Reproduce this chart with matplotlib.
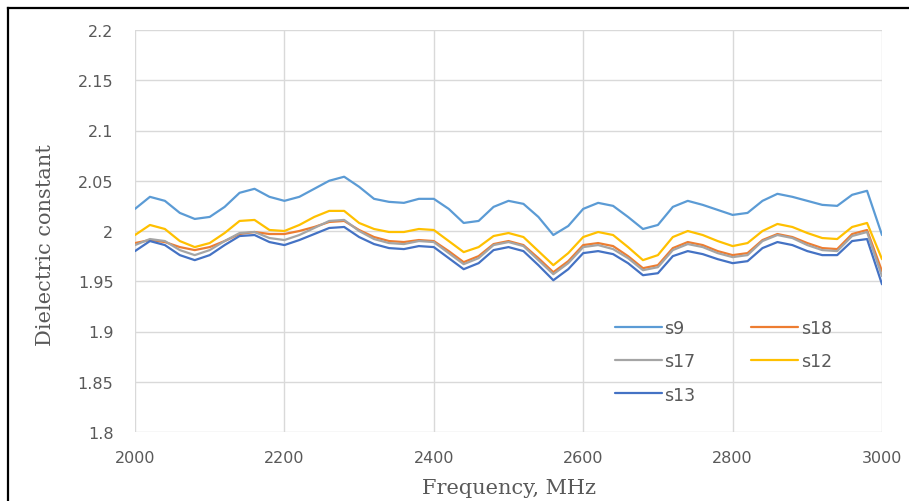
import matplotlib
matplotlib.use("Agg")
import matplotlib.pyplot as plt
from matplotlib.lines import Line2D

freq = [2000, 2020, 2040, 2060, 2080, 2100, 2120, 2140, 2160, 2180,
        2200, 2220, 2240, 2260, 2280, 2300, 2320, 2340, 2360, 2380,
        2400, 2420, 2440, 2460, 2480, 2500, 2520, 2540, 2560, 2580,
        2600, 2620, 2640, 2660, 2680, 2700, 2720, 2740, 2760, 2780,
        2800, 2820, 2840, 2860, 2880, 2900, 2920, 2940, 2960, 2980, 3000]

s9 = [2.022, 2.034, 2.030, 2.018, 2.012, 2.014, 2.024, 2.038, 2.042, 2.034,
      2.030, 2.034, 2.042, 2.050, 2.054, 2.044, 2.032, 2.029, 2.028, 2.032,
      2.032, 2.022, 2.008, 2.010, 2.024, 2.030, 2.027, 2.014, 1.996, 2.005,
      2.022, 2.028, 2.025, 2.014, 2.002, 2.006, 2.024, 2.030, 2.026, 2.021,
      2.016, 2.018, 2.030, 2.037, 2.034, 2.030, 2.026, 2.025, 2.036, 2.040, 1.996]

s18 = [1.988, 1.991, 1.989, 1.984, 1.981, 1.984, 1.990, 1.997, 1.999, 1.997,
       1.997, 2.000, 2.004, 2.009, 2.010, 2.001, 1.994, 1.990, 1.989, 1.991,
       1.990, 1.980, 1.969, 1.975, 1.987, 1.990, 1.986, 1.973, 1.959, 1.970,
       1.986, 1.988, 1.985, 1.975, 1.963, 1.966, 1.983, 1.989, 1.986, 1.980,
       1.976, 1.978, 1.991, 1.997, 1.994, 1.988, 1.983, 1.982, 1.997, 2.001, 1.960]

s17 = [1.986, 1.992, 1.990, 1.981, 1.976, 1.981, 1.990, 1.998, 1.999, 1.993,
       1.991, 1.996, 2.003, 2.010, 2.011, 2.000, 1.992, 1.988, 1.987, 1.990,
       1.989, 1.978, 1.967, 1.973, 1.986, 1.989, 1.985, 1.971, 1.957, 1.968,
       1.984, 1.986, 1.982, 1.973, 1.961, 1.964, 1.981, 1.987, 1.984, 1.978,
       1.974, 1.976, 1.990, 1.996, 1.993, 1.986, 1.981, 1.980, 1.995, 1.999, 1.955]

s12 = [1.996, 2.006, 2.002, 1.990, 1.984, 1.988, 1.998, 2.010, 2.011, 2.001,
       2.000, 2.006, 2.014, 2.020, 2.020, 2.008, 2.002, 1.999, 1.999, 2.002,
       2.001, 1.990, 1.979, 1.984, 1.995, 1.998, 1.994, 1.980, 1.966, 1.978,
       1.994, 1.999, 1.996, 1.984, 1.971, 1.976, 1.994, 2.000, 1.996, 1.990,
       1.985, 1.988, 2.000, 2.007, 2.004, 1.998, 1.993, 1.992, 2.004, 2.008, 1.972]

s13 = [1.980, 1.990, 1.986, 1.976, 1.971, 1.976, 1.986, 1.995, 1.996, 1.989,
       1.986, 1.991, 1.997, 2.003, 2.004, 1.994, 1.987, 1.983, 1.982, 1.985,
       1.984, 1.973, 1.962, 1.968, 1.981, 1.984, 1.980, 1.966, 1.951, 1.962,
       1.978, 1.980, 1.977, 1.968, 1.956, 1.958, 1.975, 1.980, 1.977, 1.972,
       1.968, 1.970, 1.983, 1.989, 1.986, 1.980, 1.976, 1.976, 1.990, 1.992, 1.947]

series_names = ["s9", "s18", "s17", "s12", "s13"]
series_values = [s9, s18, s17, s12, s13]
series_colors = ["#5B9BD5", "#ED7D31", "#A5A5A5", "#FFC000", "#4472C4"]

x_ticks = [2000, 2200, 2400, 2600, 2800, 3000]
y_ticks = [1.8, 1.85, 1.9, 1.95, 2.0, 2.05, 2.1, 2.15, 2.2]
y_tick_labels = ["1.8", "1.85", "1.9", "1.95", "2", "2.05", "2.1", "2.15", "2.2"]

W, H = 909, 502
fig = plt.figure(figsize=(W / 100, H / 100), dpi=100)
fig.patch.set_facecolor("white")

ax = fig.add_axes([135 / W, (H - 433) / H, 747 / W, 402 / H])

handles = {}
for name, vals, col in zip(series_names, series_values, series_colors):
    ln, = ax.plot(freq, vals, color=col, lw=1.6, solid_capstyle="round",
                  solid_joinstyle="round", label=name)
    handles[name] = ln

ax.set_xlim(2000, 3000)
ax.set_ylim(1.8, 2.2)
ax.set_xticks(x_ticks)
ax.set_yticks(y_ticks)
ax.set_yticklabels(y_tick_labels)
ax.grid(True, color="#D9D9D9", lw=1.0)
ax.set_axisbelow(True)
for sp in ax.spines.values():
    sp.set_visible(False)
ax.tick_params(axis="both", length=0, colors="#595959", labelsize=11.5)
ax.tick_params(axis="y", pad=15.5)
ax.tick_params(axis="x", pad=13)

fig.text(509 / W, 1 - 489 / H, "Frequency, MHz", ha="center", va="center",
         family="DejaVu Serif", fontsize=15, color="#595959")
fig.text(46 / W, 1 - 245 / H, "Dielectric constant", ha="center", va="center",
         rotation=90, family="DejaVu Serif", fontsize=15, color="#595959")

order = ["s9", "s17", "s13", "s18", "s12"]
leg = ax.legend([handles[n] for n in order], order, ncol=2, frameon=False,
                loc="upper left", bbox_to_anchor=(615 / W, 1 - 320 / H),
                bbox_transform=fig.transFigure, borderpad=0, borderaxespad=0,
                handlelength=2.7, handletextpad=0.15, columnspacing=3.2,
                labelspacing=0.88, fontsize=12.5)
for t in leg.get_texts():
    t.set_color("#595959")

# outer frame
fig.add_artist(Line2D([8 / W, 1.0], [1 - 9 / H, 1 - 9 / H], color="black", lw=1.6,
                      transform=fig.transFigure))
fig.add_artist(Line2D([8 / W, 8 / W], [0.0, 1 - 9 / H], color="black", lw=1.6,
                      transform=fig.transFigure))

fig.savefig("out.png", dpi=100)
